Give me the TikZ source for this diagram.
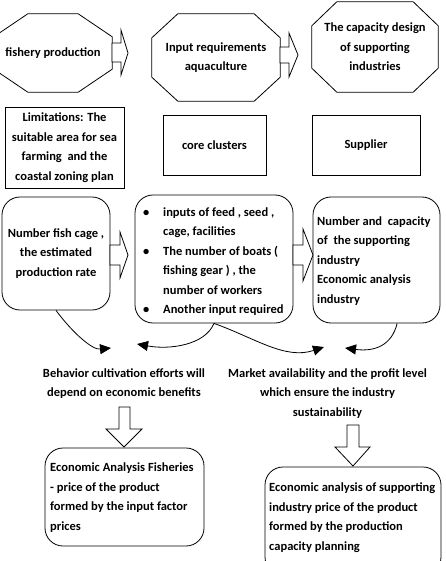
\documentclass[tikz,border=0pt]{standalone}
\usepackage{fontspec}
\setmainfont{Carlito}
\usetikzlibrary{calc,arrows.meta}
\newcommand\octpath[3]{%
  \draw[line width=0.8pt, line join=miter]
    ($(#1.north west)+(#2,0)$) -- ($(#1.north east)+(-#2,0)$) --
    ($(#1.north east)+(0,#3)$) -- ($(#1.south east)+(0,-#3)$) --
    ($(#1.south east)+(-#2,0)$) -- ($(#1.south west)+(#2,0)$) --
    ($(#1.south west)+(0,-#3)$) -- ($(#1.north west)+(0,#3)$) -- cycle;}
\begin{document}
\begin{tikzpicture}[x=1pt,y=-1pt,
  txt/.style={font=\fontsize{12.5}{19.5}\selectfont\bfseries, align=center},
  ltxt/.style={txt, align=left, anchor=west, inner sep=0pt},
  oct/.style={txt, inner sep=0pt},
  box/.style={txt, draw, line width=0.8pt, inner sep=0pt},
  rbox/.style={txt, draw, line width=0.8pt, rounded corners=18pt, inner sep=0pt},
  blk/.style={draw, fill=white, line width=0.8pt, line join=miter},
  conn/.style={draw, line width=0.8pt, -{Triangle[length=11pt,width=10pt]}}
]
\useasboundingbox (0,0) rectangle (445,561);
\clip (0,0) rectangle (445,561);
\fill[white] (0,0) rectangle (445,561);

% top row octagons
\node[oct, minimum width=118pt, minimum height=78pt] (o1) at (53,53) {fishery production};
\node[oct, minimum width=128pt, minimum height=87pt] (o2) at (216,57.5) {Input requirements\\aquaculture};
\node[oct, minimum width=126pt, minimum height=90pt] (o3) at (375,47) {The capacity design\\of supporting\\industries};
\octpath{o1}{34}{23}
\octpath{o2}{26}{24}
\octpath{o3}{25}{24}

% block arrows top
\draw[blk] (112,43) -- (121,43) -- (121,30) -- (128,53) -- (121,75) -- (121,62) -- (112,62) -- cycle;
\draw[blk] (280,47) -- (289,47) -- (289,33) -- (298,55) -- (289,77) -- (289,63) -- (280,63) -- cycle;

% second row rectangles
\node[box, minimum width=119pt, minimum height=81pt] (r1) at (64.5,147.5) {Limitations: The\\suitable area for sea\\farming\ \ and the\\coastal zoning plan};
\node[box, minimum width=103pt, minimum height=60pt] (r2) at (214.5,145) {core clusters};
\node[box, minimum width=108pt, minimum height=60pt] (r3) at (366,145) {Supplier};

% third row rounded boxes
\node[rbox, minimum width=108pt, minimum height=113pt] (a) at (56,253.5) {Number fish cage ,\\the estimated\\production rate};
\node[rbox, minimum width=158pt, minimum height=128pt] (b) at (214,259) {};
\node[ltxt] (bt) at (143,261.5)
  {\makebox[20pt][l]{\textbullet}inputs of feed , seed ,\\
   \hspace*{20pt}cage, facilities\\
   \makebox[20pt][l]{\textbullet}The number of boats (\\
   \hspace*{20pt}fishing gear ) , the\\
   \hspace*{20pt}number of workers\\
   \makebox[20pt][l]{\textbullet}Another input required};
\node[rbox, minimum width=127pt, minimum height=126pt] (c) at (376.5,260) {};
\node[ltxt] (ct) at (317,261)
  {Number and\ \ capacity\\of\ \ the supporting\\industry\\Economic analysis\\industry};

% block arrows middle
\draw[blk] (110,245) -- (120,245) -- (120,232) -- (128,255) -- (120,278) -- (120,265) -- (110,265) -- cycle;
\draw[blk] (293,245) -- (303,245) -- (303,229) -- (313,255) -- (303,281) -- (303,265) -- (293,265) -- cycle;

% connector targets
\coordinate (t1) at (111,348);
\coordinate (t2) at (137,344);
\coordinate (t3) at (324,347);
\coordinate (t4) at (345,348);

\draw[conn] (a.south) .. controls (72,332) and (92,350) .. (t1);
\draw[conn] (b.south) .. controls (205,345) and (170,350) .. (t2);
\draw[conn] (b.south) .. controls (255,338) and (285,360) .. (t3);
\draw[conn] (c.-72) .. controls (392,345) and (375,352) .. (t4);

% middle texts
\node[txt] (m1) at (124,383.5) {Behavior cultivation efforts will\\depend on economic benefits};
\node[txt] (m2) at (327.5,393.5) {Market availability and the profit level\\which ensure the industry\\sustainability};

% down block arrows
\draw[blk] (119,407) -- (130,407) -- (130,429) -- (142,429) -- (124,447) -- (106,429) -- (119,429) -- cycle;
\draw[blk] (347,425) -- (359,425) -- (359,447) -- (370,447) -- (353,466) -- (335,447) -- (347,447) -- cycle;

% bottom boxes
\node[rbox, minimum width=159pt, minimum height=98pt] (d) at (124.5,497) {};
\node[ltxt] (dt) at (50,497.5)
  {Economic Analysis Fisheries\\- price of the product\\formed by the input factor\\prices};
\node[rbox, minimum width=176pt, minimum height=108pt] (e) at (353,521) {};
\node[ltxt] (et) at (269,517.5)
  {Economic analysis of supporting\\industry price of the product\\formed by the production\\capacity planning};
\end{tikzpicture}
\end{document}
